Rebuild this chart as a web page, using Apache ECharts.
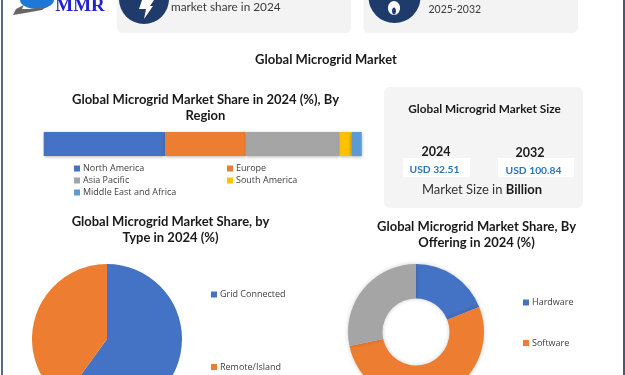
<!DOCTYPE html>
<html><head><meta charset="utf-8">
<style>html,body{margin:0;padding:0;background:#fff}#c{width:625px;height:375px;filter:blur(0.35px)}</style>
<script src="https://cdn.jsdelivr.net/npm/echarts@6/dist/echarts.min.js"></script>
</head><body><div id="c"></div>
<script>
var regionNames = ['North America','Europe','Asia Pacific','South America','Middle East and Africa'];
var regionValues = [38.1,25.4,29.5,3.7,3.2];
var regionColors = ['#4472C4','#ED7D31','#A5A5A5','#FFC000','#5B9BD5'];
var typeNames = ['Grid Connected','Remote/Island'];
var typeValues = [60,40];
var offeringNames = ['Hardware','Software','Services'];
var offeringValues = [19,52.7,28.3];
var F = 'Lato';
var titleText = 'Global Microgrid Market';
var regionTitle = 'Global Microgrid Market Share in 2024 (%), By\nRegion';
var typeTitle = 'Global Microgrid Market Share, by\nType in 2024 (%)';
var offeringTitle = 'Global Microgrid Market Share, By\nOffering in 2024 (%)';
var sizeTitle = 'Global Microgrid Market Size';
var sizeYears = ['2024','2032'];
var sizeValues = ['USD 32.51','USD 100.84'];

function ttl(text,cx,top,size,lh){return {text:text,left:cx,top:top,textAlign:'center',padding:0,
  textStyle:{fontFamily:F,fontWeight:700,fontSize:size,lineHeight:lh,color:'#1a1a1a'}};}
function leg(names,left,top,gap,size,orient){return {data:names,left:left,top:top,orient:orient||'vertical',padding:0,itemGap:gap,
  itemWidth:6,itemHeight:6,icon:'rect',selectedMode:false,textStyle:{fontFamily:'Open Sans',fontSize:size,color:'#404040',padding:[0,0,0,-2]}};}
function txt(t,x,y,size,weight,color,align){return {type:'text',x:x,y:y,silent:true,style:{text:t,fontFamily:F,fontSize:size,fontWeight:weight,fill:color,align:align||'center',verticalAlign:'middle'}};}
function rect(x,y,w,h,r,fill){return {type:'rect',silent:true,shape:{x:x,y:y,width:w,height:h,r:r},style:{fill:fill}};}

var chart = echarts.init(document.getElementById('c'),null,{renderer:'canvas'});
var barSeries = regionNames.map(function(n,i){return {name:n,type:'bar',stack:'r',barWidth:24,data:[regionValues[i]],
  itemStyle:{color:regionColors[i],shadowBlur:3,shadowColor:'rgba(0,0,0,0.3)',shadowOffsetY:1},silent:true};});
var shadow = {shadowBlur:4,shadowColor:'rgba(0,0,0,0.2)'};
chart.setOption({
  animation:false,
  color:regionColors,
  title:[ttl(titleText,326,52,13,15),ttl(regionTitle,205.5,92,13,16),ttl(typeTitle,170.5,214,13,16),ttl(offeringTitle,476.5,219,13,16)],
  legend:[
    leg(['North America','Asia Pacific','Middle East and Africa'],74,164,3,9),
    leg(['Europe','South America'],227,164,3,9),
    leg([typeNames[0]],211,290,0,9),
    leg([typeNames[1]],211,362.5,0,9),
    leg([offeringNames[0]],523,298,0,9),
    leg([offeringNames[1]],523,338.5,0,9)
  ],
  grid:{left:43.7,top:132,width:318.3,height:24},
  xAxis:{type:'value',min:0,max:100,show:false},
  yAxis:{type:'category',data:['Region'],show:false},
  series:barSeries.concat([
    {type:'pie',center:[107,339],radius:[0,75],startAngle:90,clockwise:true,silent:true,label:{show:false},labelLine:{show:false},
     itemStyle:{},data:typeNames.map(function(n,i){return {name:n,value:typeValues[i],itemStyle:{color:regionColors[i]}};})},
    {type:'pie',center:[416,332],radius:[33.5,68],startAngle:90,clockwise:true,silent:true,label:{show:false},labelLine:{show:false},
     itemStyle:shadow,data:offeringNames.map(function(n,i){return {name:n,value:offeringValues[i],itemStyle:{color:regionColors[i]}};})}
  ]),
  graphic:[
    {type:'group',silent:true,z:-1,children:[
      rect(117,-10,234,43,5,'#F3F3F3'),
      rect(363.5,-10,214.5,43,5,'#F3F3F3'),
      rect(384,87,199,121,6,'#F4F4F4'),
      rect(403,158,67,19,0,'#FFFFFF'),
      rect(498,158,76,19,0,'#FFFFFF')
    ]},
    rect(1,0,2,375,0,'#5A6B80'),
    rect(623,0,2,375,0,'#4A5A70'),
    {type:'circle',silent:true,shape:{cx:144,cy:-1,r:25},style:{fill:'#1F3B6B'}},
    {type:'polygon',silent:true,shape:{points:[[142,0],[154,0],[150,6],[153,6],[144,19],[146,9],[139,9]]},style:{fill:'#fff'}},
    {type:'circle',silent:true,shape:{cx:394.5,cy:-3,r:26},style:{fill:'#1F3B6B'}},
    {type:'ellipse',silent:true,shape:{cx:394,cy:8,rx:6,ry:7},style:{fill:'#fff'}},
    {type:'ellipse',silent:true,shape:{cx:394,cy:11,rx:2,ry:3.5},style:{fill:'#1F3B6B'}},
    {type:'ellipse',silent:true,shape:{cx:37,cy:0,rx:17,ry:9},style:{fill:'#1E78D8'}},
    {type:'polygon',silent:true,shape:{points:[[13,15],[16,9],[24,5],[22,9],[30,9],[45,7],[55,1],[42,10],[25,13]]},style:{fill:'#666'}},
    {type:'text',silent:true,x:80,y:6,style:{text:'MMR',fontFamily:'Liberation Serif',fontSize:19,fontWeight:700,fill:'#2323CC',align:'center',verticalAlign:'middle'}},
    txt('market share in 2024',171,7,11.8,400,'#3a3a3a','left'),
    txt('2025-2032',428.5,9.5,10.5,400,'#3a3a3a','left'),
    txt(sizeTitle,484.5,109,11.8,700,'#1a1a1a'),
    txt(sizeYears[0],436,152,12.5,700,'#1a1a1a'),
    txt(sizeYears[1],530,152.5,12.5,700,'#1a1a1a'),
    txt(sizeValues[0],434.5,170,10.3,700,'#2E75B6'),
    txt(sizeValues[1],533.5,171,10.3,700,'#2E75B6'),
    {type:'text',silent:true,x:482,y:190,style:{rich:{a:{fontFamily:F,fontSize:13,fill:'#333'},b:{fontFamily:F,fontSize:13,fontWeight:700,fill:'#1a1a1a'}},text:'{a|Market Size in }{b|Billion}',align:'center',verticalAlign:'middle'}}
  ]
});
</script></body></html>
